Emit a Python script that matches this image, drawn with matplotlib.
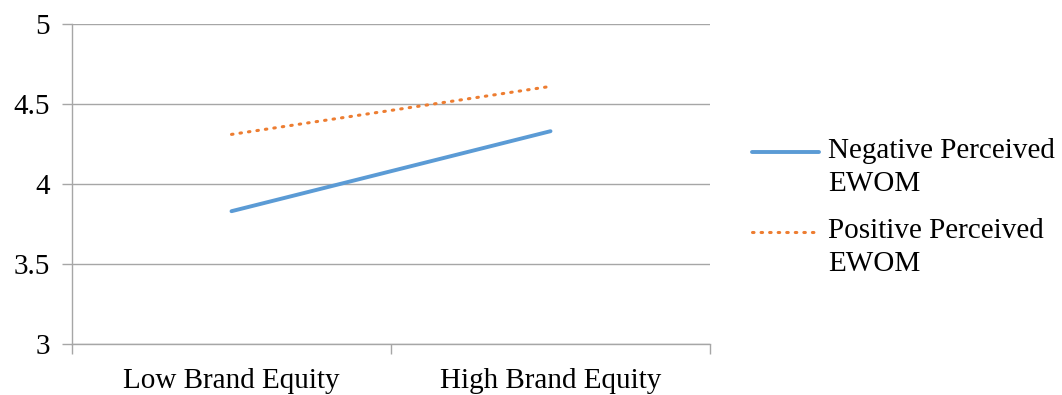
import matplotlib.pyplot as plt
from matplotlib.lines import Line2D

categories = ['Low Brand Equity', 'High Brand Equity']
negative = [3.83, 4.33]
positive = [4.31, 4.61]
series_names = ['Negative Perceived\nEWOM', 'Positive Perceived\nEWOM']
y_ticks = [3, 3.5, 4, 4.5, 5]
y_labels = ['3', '3.5', '4', '4.5', '5']

blue = '#5B9BD5'
orange = '#ED7D31'
grid = '#A6A6A6'

plt.rcParams['font.family'] = ['Liberation Serif', 'DejaVu Serif']

fig = plt.figure(figsize=(10.62, 3.95), dpi=100)
ax = fig.add_axes([72 / 1062, 1 - 344 / 395, (710 - 72) / 1062, 320 / 395])

x = range(len(categories))
ax.plot(x, negative, color=blue, lw=2.8, solid_capstyle='round')
ax.plot(x, positive, color=orange, lw=2.2, linestyle=(0, (0.5, 2.3)),
        dash_capstyle='round')

ax.set_xlim(-0.5, 1.5)
ax.set_ylim(3, 5)
ax.set_yticks(y_ticks)
ax.set_yticklabels(y_labels)
ax.set_xticks(list(x))
ax.set_xticklabels(categories)
ax.set_xticks([-0.5, 0.5, 1.5], minor=True)
ax.tick_params(axis='x', which='major', length=0, labelsize=21, pad=17)
ax.tick_params(axis='x', which='minor', length=7, color=grid, width=1)
ax.tick_params(axis='y', length=7, color=grid, width=1, labelsize=21, pad=9)
ax.yaxis.grid(True, color=grid, lw=1)
ax.set_axisbelow(True)
for s in ['top', 'right']:
    ax.spines[s].set_visible(False)
for s in ['left', 'bottom']:
    ax.spines[s].set_color(grid)
    ax.spines[s].set_linewidth(1)

# legend drawn by hand so the handle sits on the first text line
styles = [dict(color=blue, lw=2.8, solid_capstyle='round'),
          dict(color=orange, lw=2.2, linestyle=(0, (0.5, 2.3)), dash_capstyle='round')]
for i, (name, st) in enumerate(zip(series_names, styles)):
    yy = 1 - (152 + i * 80) / 395
    fig.add_artist(Line2D([752 / 1062, 819 / 1062], [yy, yy], transform=fig.transFigure, **st))
    fig.text(828 / 1062, yy + 14 / 395, name, fontsize=21, va='top', ha='left',
             linespacing=1.35)

fig.savefig('out.png', dpi=100)
